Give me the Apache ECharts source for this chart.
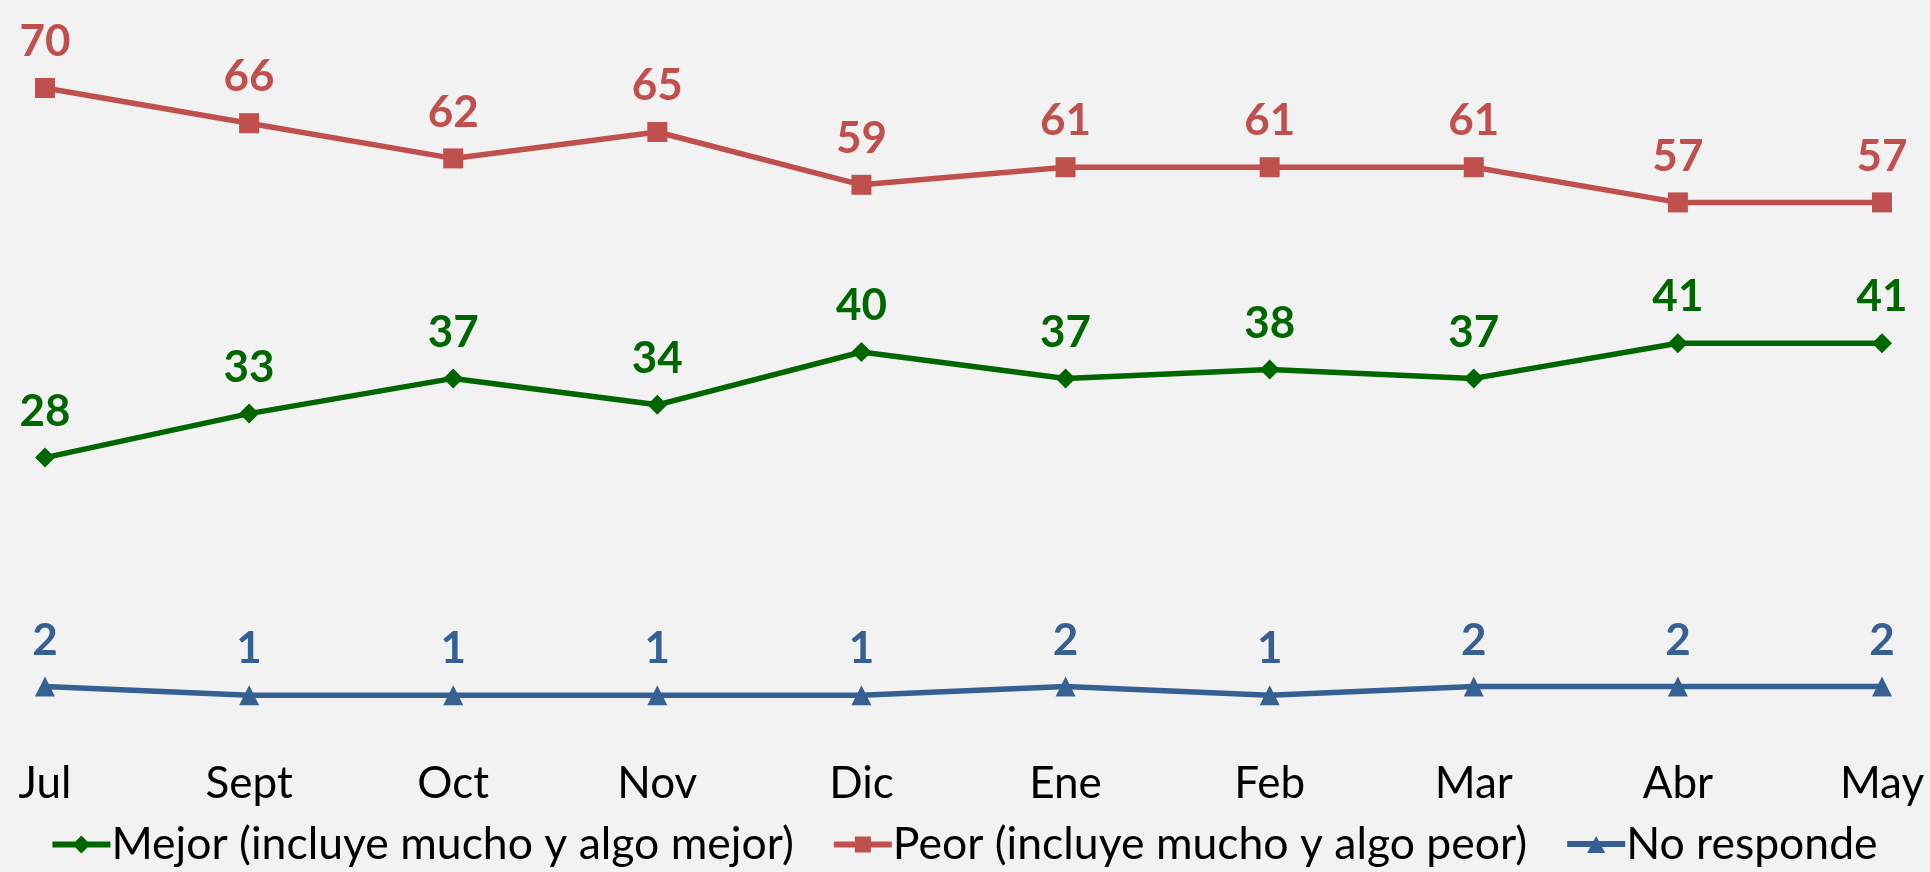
<!DOCTYPE html>
<html>
<head>
<meta charset="utf-8">
<script src="https://cdn.jsdelivr.net/npm/echarts@6/dist/echarts.min.js"></script>
<style>
html,body{margin:0;padding:0;background:#F2F2F2;}
#chart{width:1930px;height:872px;}
</style>
</head>
<body>
<div id="chart"></div>
<script>
const categories = ['Jul','Sept','Oct','Nov','Dic','Ene','Feb','Mar','Abr','May'];
const mejor = [28,33,37,34,40,37,38,37,41,41];
const peor = [70,66,62,65,59,61,61,61,57,57];
const noResponde = [2,1,1,1,1,2,1,2,2,2];
const seriesNames = ['Mejor (incluye mucho y algo mejor)','Peor (incluye mucho y algo peor)','No responde'];

const FONT = 'Lato';
const LINE = 'M0,7 L58,7 L58,13 L0,13 Z ';
const icons = [
  'path://' + LINE + 'M20,10 L29,1 L38,10 L29,19 Z',
  'path://' + LINE + 'M21,2 L37,2 L37,18 L21,18 Z',
  'path://' + LINE + 'M20,19 L29,2 L38,19 Z'
];
function mk(name, data, color, symbol){
  return {
    name: name, type: 'line', data: data,
    symbol: symbol, symbolSize: 20,
    lineStyle: {color: color, width: 5.5},
    itemStyle: {color: color},
    label: {show: true, position: 'top', distance: 14, color: color,
      fontFamily: FONT, fontWeight: 'bold', fontSize: 44},
    emphasis: {disabled: true},
    animation: false
  };
}
const chart = echarts.init(document.getElementById('chart'), null, {renderer:'canvas'});
chart.setOption({
  backgroundColor: '#F2F2F2',
  animation: false,
  grid: {left: 45, right: 48, top: -4, bottom: 168, containLabel: false},
  legend: {
    bottom: 0, left: 'center',
    itemWidth: 58, itemHeight: 20, itemGap: 40,
    textStyle: {fontFamily: FONT, fontSize: 44.5, color: '#000', padding: [0,0,0,-4]},
    data: seriesNames.map((n, i) => ({name: n, icon: icons[i]}))
  },
  xAxis: {
    type: 'category', data: categories, boundaryGap: false,
    axisLine: {show: false}, axisTick: {show: false},
    axisLabel: {fontFamily: FONT, fontSize: 44, color: '#000', margin: 58, interval: 0}
  },
  yAxis: {
    type: 'value', min: 0, max: 80, show: false,
    splitLine: {show: false}
  },
  series: [
    mk(seriesNames[0], mejor, '#006600', 'diamond'),
    mk(seriesNames[1], peor, '#C0504D', 'rect'),
    mk(seriesNames[2], noResponde, '#366092', 'triangle')
  ]
});
</script>
</body>
</html>
